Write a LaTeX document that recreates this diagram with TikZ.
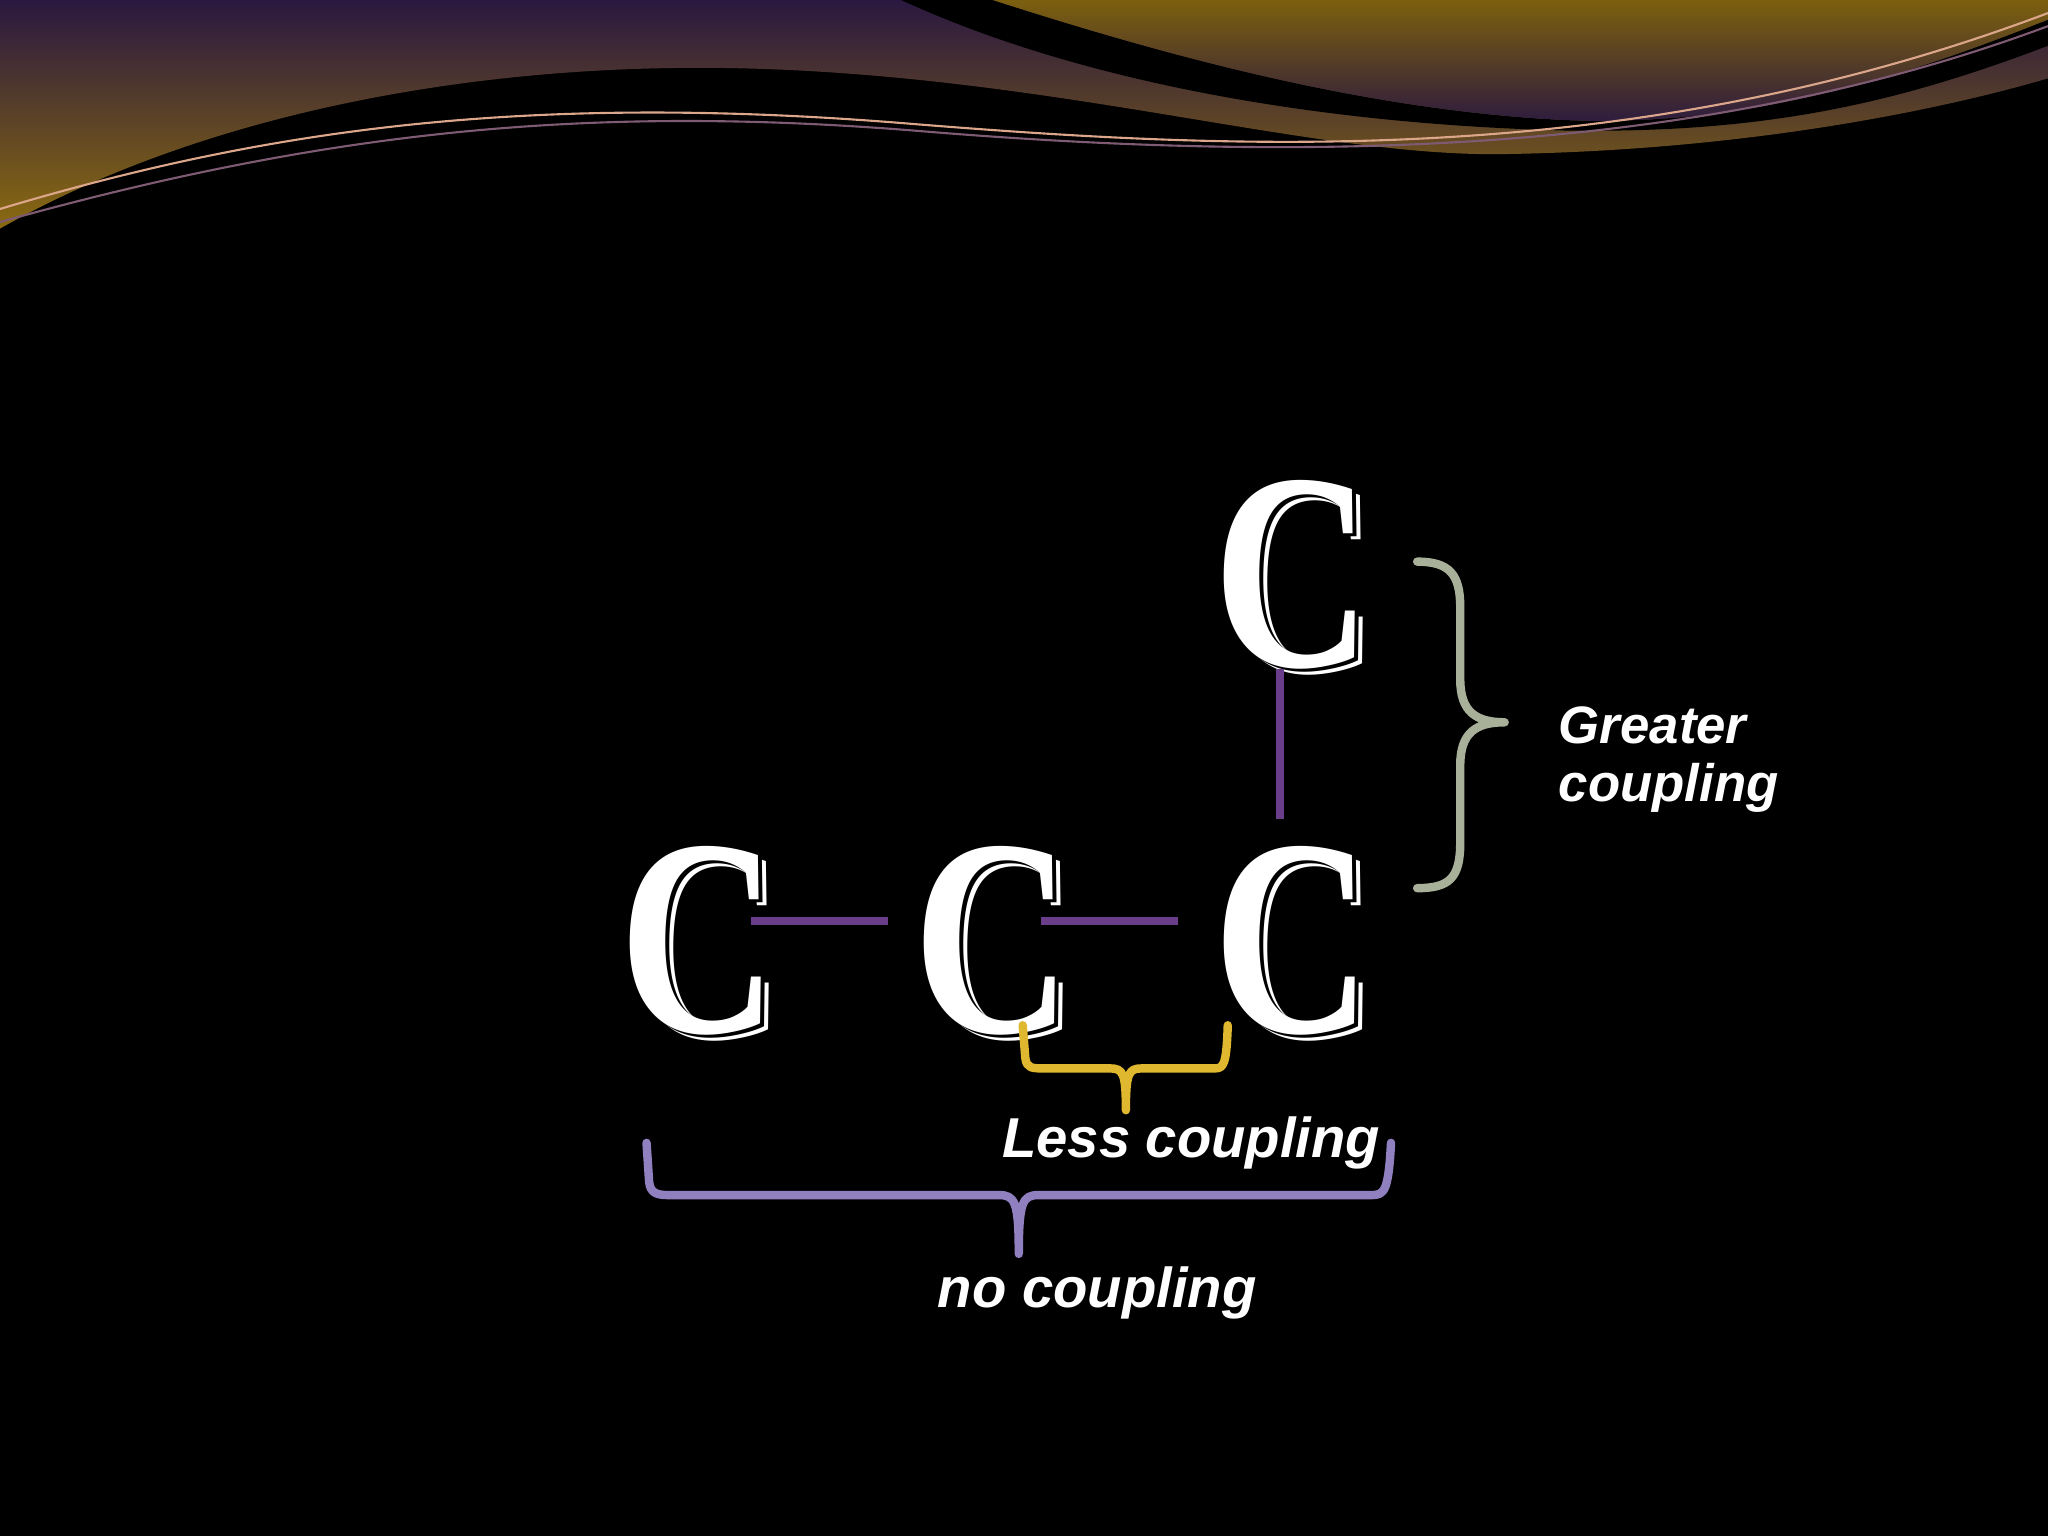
\documentclass[tikz,border=0pt]{standalone}
\usepackage{fontspec}
\setmainfont{Liberation Serif}
\newfontfamily\lab{Liberation Sans}
\begin{document}
\begin{tikzpicture}[x=0.013061cm,y=-0.013061cm,
  atom/.style={inner sep=0pt,font=\fontsize{80}{80}\selectfont\bfseries},
  lbl/.style={text=white,font=\lab\bfseries\itshape\fontsize{15}{18}\selectfont,inner sep=0pt},
  bond/.style={draw=bondc,line width=2.2pt},
  brace/.style={line width=2.4pt,line cap=round,line join=round}]
\definecolor{bondc}{HTML}{6A3D8A}
\definecolor{gbr}{HTML}{A8B09A}
\definecolor{ybr}{HTML}{E0B830}
\definecolor{pbr}{HTML}{9080C0}
\definecolor{topp}{HTML}{2A1840}
\definecolor{gold}{HTML}{8A6A10}
\fill[black] (0,0) rectangle (1568,1176);
\useasboundingbox (0,0) rectangle (1568,1176);
% top decoration
\shade[top color=topp,bottom color=gold] (0,0) -- (1568,0) -- (1568,60) .. controls (1500,80) and (1350,115) .. (1150,118) .. controls (1000,120) and (800,55) .. (550,52) .. controls (350,50) and (150,90) .. (0,175) -- cycle;
\fill[black] (690,0) -- (760,0) .. controls (900,45) and (1050,85) .. (1200,92) .. controls (1350,98) and (1480,50) .. (1568,15) -- (1568,35) .. controls (1450,80) and (1350,102) .. (1200,100) .. controls (1000,95) and (820,60) .. cycle;
\shade[top color=gold!90!black,bottom color=topp] (760,0) -- (1568,0) -- (1568,15) .. controls (1480,50) and (1350,98) .. (1200,92) .. controls (1050,85) and (900,45) .. cycle;
\draw[pink!70!gold,line width=0.6pt] (0,160) .. controls (200,100) and (400,70) .. (700,95) .. controls (950,115) and (1250,130) .. (1568,10);
\draw[topp!60!pink,line width=0.6pt] (0,170) .. controls (250,100) and (450,80) .. (700,100) .. controls (1000,125) and (1300,120) .. (1568,20);
% atoms
\foreach \n/\x/\y in {c1/535/720, c2/760/720, c3/990/720, c4/990/440}{
  \node[atom,text=white] at (\x+6,\y+5) {\scalebox{0.78}[1]{C}};
  \node[atom,text=black] at (\x+3,\y+2.5) {\scalebox{0.78}[1]{C}};
  \node[atom,text=white] (\n) at (\x,\y) {\scalebox{0.78}[1]{C}};
}
% bonds
\coordinate (b1s) at (575,705); \coordinate (b1e) at (680,705);
\coordinate (b2s) at (797,705); \coordinate (b2e) at (902,705);
\coordinate (b3s) at (980,512); \coordinate (b3e) at (980,627);
\draw[bond] (b1s) -- (b1e);
\draw[bond] (b2s) -- (b2e);
\draw[bond] (b3s) -- (b3e);
% braces
\draw[brace,gbr] (1085,430) .. controls (1110,430) and (1118,440) .. (1118,465) -- (1118,520) .. controls (1118,545) and (1130,553) .. (1152,553) .. controls (1130,553) and (1118,561) .. (1118,586) -- (1118,645) .. controls (1118,672) and (1110,680) .. (1085,680);
\draw[brace,ybr] (783,785) -- (785,810) .. controls (786,818) and (790,818) .. (800,818) -- (850,818) .. controls (860,818) and (862,822) .. (862,850) .. controls (862,822) and (864,818) .. (874,818) -- (930,818) .. controls (937,818) and (939,815) .. (940,785);
\draw[brace,pbr] (495,875) -- (497,905) .. controls (498,913) and (502,915) .. (512,915) -- (765,915) .. controls (777,915) and (780,920) .. (780,960) .. controls (780,920) and (783,915) .. (795,915) -- (1050,915) .. controls (1060,915) and (1063,912) .. (1065,875);
% labels
\node[lbl,anchor=west] (g1) at (1193,555) {Greater};
\node[lbl,anchor=west] (g2) at (1193,603) {coupling};
\node[lbl,font=\lab\bfseries\itshape\fontsize{16}{18}\selectfont] (less) at (912,875) {Less coupling};
\node[lbl,font=\lab\bfseries\itshape\fontsize{16}{18}\selectfont] (noc) at (840,990) {no coupling};
\end{tikzpicture}
\end{document}
